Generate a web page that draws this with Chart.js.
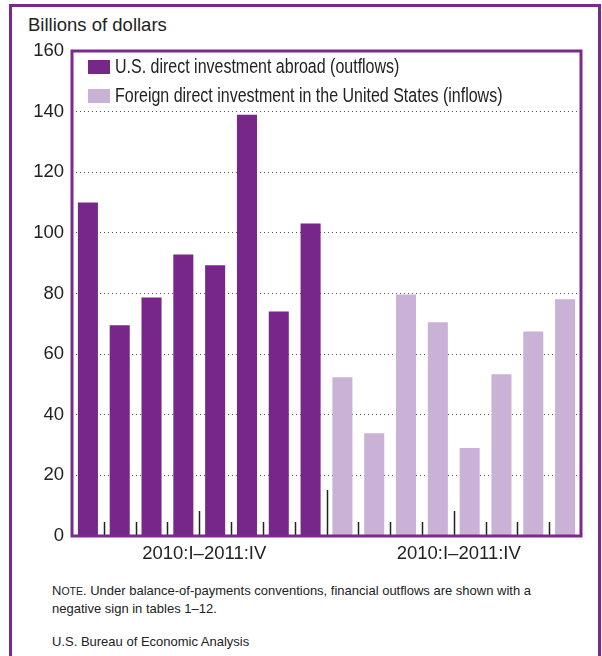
<!DOCTYPE html>
<html>
<head>
<meta charset="utf-8">
<script src="https://cdn.jsdelivr.net/npm/chart.js@4.4.1/dist/chart.umd.min.js"></script>
<style>
  body { margin: 0; background: #fff; font-family: "Liberation Sans", Arial, sans-serif; color: #222; }
  #wrap { position: relative; width: 602px; height: 656px; overflow: hidden; }
  #frame { position: absolute; left: 9px; top: 4px; width: 586px; height: 700px; border: 3px solid #7a2a8c; }
  #unit { position: absolute; left: 28px; top: 15px; font-size: 18.5px; line-height: 20px; }
  #chartBox { position: absolute; left: 0; top: 0; width: 602px; height: 570px; }
  .leg { position: absolute; left: 88px; font-size: 19.5px; line-height: 20px; white-space: nowrap; }
  .leg .sw { display: inline-block; width: 22px; height: 14px; vertical-align: -1px; margin-right: 5px; }
  .leg .tx { display: inline-block; transform: scaleX(0.82); transform-origin: 0 50%; }
  .note { position: absolute; left: 52px; font-size: 13px; line-height: 17px; }
</style>
</head>
<body>
<div id="wrap">
  <div id="frame"></div>
  <div id="unit">Billions of dollars</div>
  <div id="chartBox"><canvas id="chart" width="602" height="570"></canvas></div>
  <div class="leg" style="top:56px"><span class="sw" style="background:#77268a"></span><span class="tx">U.S. direct investment abroad (outflows)</span></div>
  <div class="leg" style="top:85px"><span class="sw" style="background:#cab2d6"></span><span class="tx">Foreign direct investment in the United States (inflows)</span></div>
  <div class="note" style="top:582px">N<span style="font-size:10.5px">OTE</span>. Under balance-of-payments conventions, financial outflows are shown with a<br>negative sign in tables 1–12.</div>
  <div class="note" style="top:633px">U.S. Bureau of Economic Analysis</div>
</div>
<script>
// quarters 2010:I - 2011:IV, shown twice (outflows block, then inflows block)
const quarters = ['2010:I', '2010:II', '2010:III', '2010:IV', '2011:I', '2011:II', '2011:III', '2011:IV'];
const groupLabels = ['2010:I–2011:IV', '2010:I–2011:IV'];
const outflows = [110.0, 69.5, 78.7, 92.9, 89.3, 139.0, 74.1, 103.1];
const inflows = [52.4, 33.9, 79.7, 70.5, 29.0, 53.4, 67.5, 78.1];
const yTicks = [0, 20, 40, 60, 80, 100, 120, 140, 160];

const labels = quarters.map(q => 'out ' + q).concat(quarters.map(q => 'in ' + q));
const outData = outflows.concat(inflows.map(() => null));
const inData = outflows.map(() => null).concat(inflows);

const PURPLE = '#77268a';
const LILAC = '#cab2d6';
const FRAME = '#7a2a8c';

// small tick marks between quarters, group labels and the purple box round the plot
const decorPlugin = {
    id: 'decor',
    afterDatasetsDraw(chart) {
        const ctx = chart.ctx;
        const x = chart.scales.x;
        const area = chart.chartArea;
        ctx.save();
        ctx.strokeStyle = '#222';
        ctx.lineWidth = 1.5;
        for (let i = 1; i < labels.length; i++) {
            const bx = (x.getPixelForValue(i - 1) + x.getPixelForValue(i)) / 2;
            let len = 14;
            if (i === quarters.length) len = 46;
            else if (i % 4 === 0) len = 25;
            ctx.beginPath();
            ctx.moveTo(Math.round(bx) + 0.5, area.bottom);
            ctx.lineTo(Math.round(bx) + 0.5, area.bottom - len);
            ctx.stroke();
        }
        ctx.strokeStyle = FRAME;
        ctx.lineWidth = 3;
        ctx.strokeRect(area.left, area.top, area.right - area.left, area.bottom - area.top);

        ctx.fillStyle = '#222';
        ctx.font = '18.5px "Liberation Sans", Arial, sans-serif';
        ctx.textAlign = 'center';
        ctx.textBaseline = 'middle';
        groupLabels.forEach((g, k) => {
            const mid = k * quarters.length + quarters.length / 2;
            const cx = (x.getPixelForValue(mid - 1) + x.getPixelForValue(mid)) / 2;
            ctx.fillText(g, cx + 5, area.bottom + 18);
        });
        ctx.restore();
    }
};

new Chart(document.getElementById('chart'), {
    type: 'bar',
    data: {
        labels: labels,
        datasets: [
            { label: 'U.S. direct investment abroad (outflows)', data: outData, backgroundColor: PURPLE },
            { label: 'Foreign direct investment in the United States (inflows)', data: inData, backgroundColor: LILAC }
        ]
    },
    options: {
        responsive: false,
        animation: false,
        grouped: false,
        categoryPercentage: 1,
        barPercentage: 0.63,
        layout: { padding: { left: 0, top: 51, right: 21, bottom: 34 } },
        plugins: { legend: { display: false }, tooltip: { enabled: false } },
        scales: {
            x: {
                grid: { display: false, drawTicks: false },
                border: { display: false },
                ticks: { display: false }
            },
            y: {
                min: 0,
                max: 160,
                afterBuildTicks: s => { s.ticks = yTicks.map(v => ({ value: v })); },
                afterFit: s => { s.width = 72; },
                grid: { color: '#555', lineWidth: 1, drawTicks: false },
                border: { display: false, dash: [1, 3] },
                ticks: { color: '#222', padding: 8, font: { size: 18.5, family: '"Liberation Sans", Arial, sans-serif' } }
            }
        }
    },
    plugins: [decorPlugin]
});
</script>
</body>
</html>
